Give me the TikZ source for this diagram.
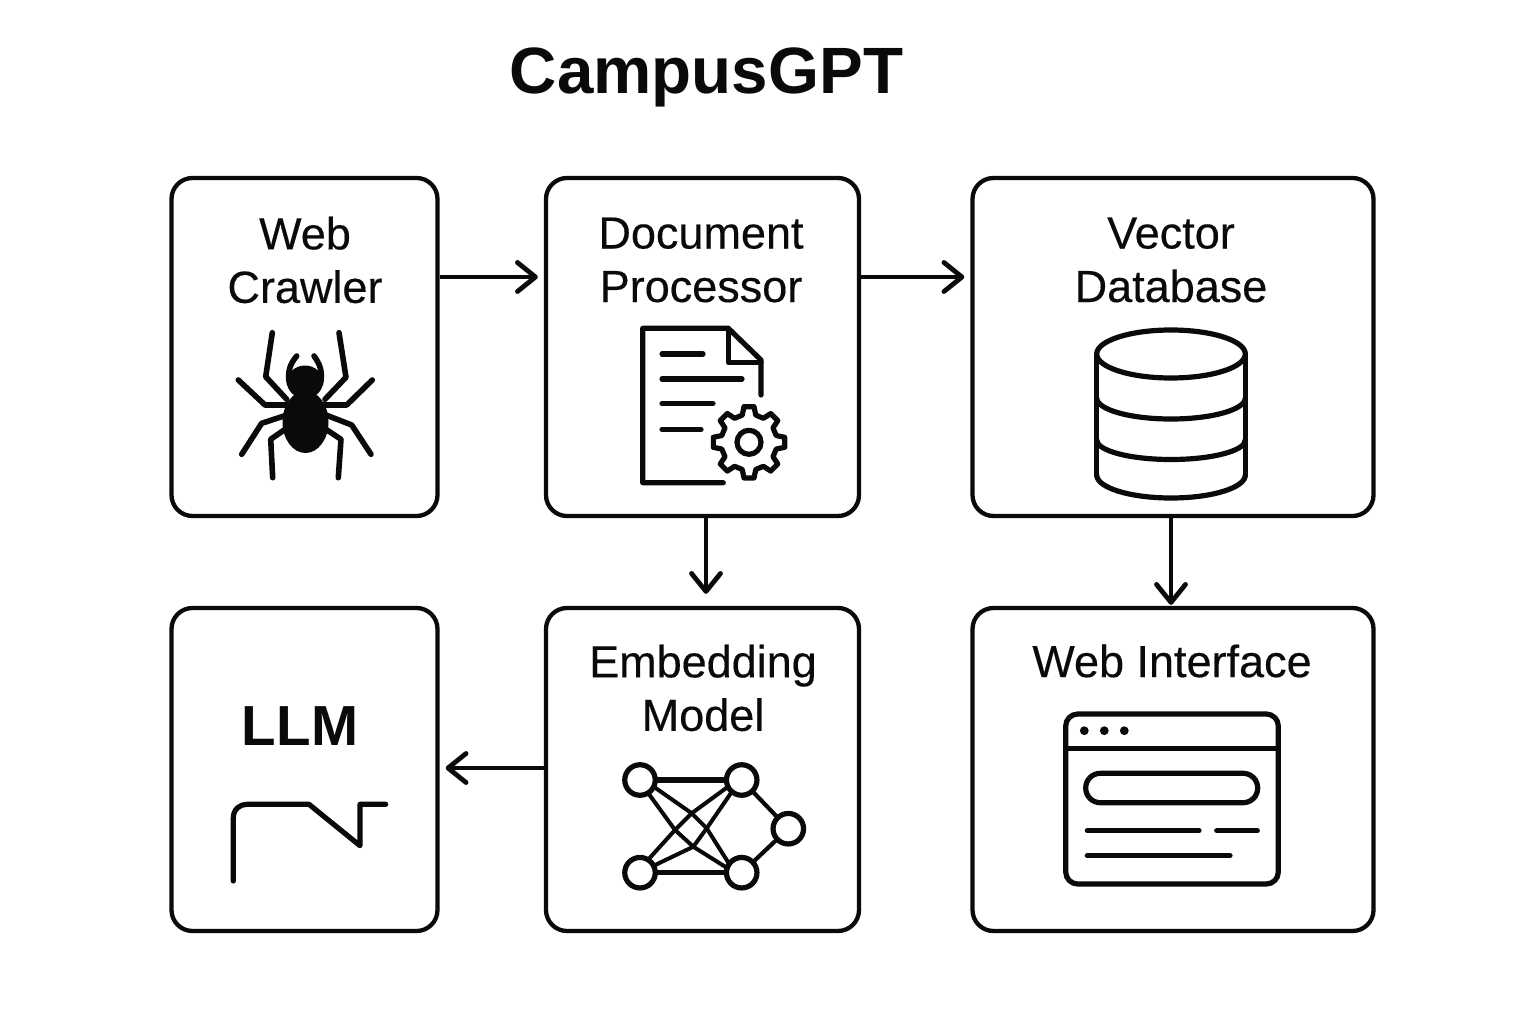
\documentclass[tikz,border=0pt]{standalone}
\usepackage{fontspec}
\setmainfont{Liberation Sans}
\newfontface\lblface{Liberation Sans}[FakeBold=0.3]
\usetikzlibrary{arrows.meta}
\definecolor{ink}{HTML}{0A0A0A}
\begin{document}
\begin{tikzpicture}[x=1pt,y=-1pt,
  box/.style={draw=ink,line width=4.3pt,rounded corners=21pt,inner sep=0pt},
  flow/.style={draw=ink,line width=4.3pt,-{Straight Barb[length=18pt,width=29pt,round,line width=4.8pt]}},
  lbl/.style={font=\lblface\fontsize{45}{53.5}\selectfont,text=ink,align=center,inner sep=0pt},
  icon/.style={draw=ink,line width=5.2pt,line cap=round,line join=round},
  neuron/.style={circle,draw=ink,line width=5.2pt,minimum size=30.5pt,inner sep=0pt,outer sep=0pt,fill=white},
  leg/.style={draw=ink,line width=5.6pt,line cap=round,line join=round}]
\useasboundingbox (0,0) rectangle (1536,1024);
\fill[white] (0,0) rectangle (1536,1024);

% title
\node[font=\fontsize{65.5}{70}\bfseries\selectfont,text=ink,inner sep=0pt] (title) at (706.5,77) {CampusGPT};

% boxes
\node[box,minimum width=266pt,minimum height=338pt] (crawler) at (304.5,347) {};
\node[box,minimum width=313pt,minimum height=338pt] (docproc) at (702.5,347) {};
\node[box,minimum width=401pt,minimum height=338pt] (vecdb) at (1173,347) {};
\node[box,minimum width=266pt,minimum height=323pt] (llm) at (304.5,769.5) {};
\node[box,minimum width=313pt,minimum height=323pt] (embed) at (702.5,769.5) {};
\node[box,minimum width=401pt,minimum height=323pt] (webui) at (1173,769.5) {};

% labels
\node[lbl] (tcrawler) at (305,260) {Web\\Crawler};
\node[lbl] (tdocproc) at (701,260) {Document\\Processor};
\node[lbl] (tvecdb) at (1171,260) {Vector\\Database};
\node[lbl] (tembed) at (703,688) {Embedding\\Model};
\node[lbl] (twebui) at (1172,661) {Web Interface};
\node[font=\fontsize{56.5}{60}\bfseries\selectfont,text=ink,inner sep=0pt] (tllm) at (300,726) {LLM};

% connectors
\coordinate (a1) at (crawler.east |- 0,277);
\coordinate (a2) at (docproc.west |- 0,277);
\coordinate (a3) at (docproc.east |- 0,277);
\coordinate (a4) at (vecdb.west |- 0,277);
\coordinate (a5) at (706,0 |- docproc.south);
\coordinate (a6) at (706,0 |- embed.north);
\coordinate (a7) at (1171,0 |- vecdb.south);
\coordinate (a8) at (1171,0 |- webui.north);
\coordinate (a9) at (embed.west |- 0,768);
\coordinate (a10) at (llm.east |- 0,768);
\draw[flow,shorten >=6pt] (a1) -- (a2);
\draw[flow,shorten >=6pt] (a3) -- (a4);
\draw[flow,shorten >=12pt] (a5) -- (a6);
\draw[flow,shorten >=1pt] (a7) -- (a8);
\draw[flow,shorten >=6pt] (a9) -- (a10);

% spider
\fill[ink] (305.5,422) ellipse [x radius=23,y radius=31];
\fill[ink] (305,382) ellipse [x radius=18,y radius=16.5];
\draw[leg] (296.7,356) .. controls (290,364) and (287,372) .. (289.5,384);
\draw[leg] (314,356) .. controls (320,364) and (323,372) .. (320.5,384);
\draw[leg] (272.3,332.7) -- (265.7,376.7) -- (286.7,399.3);
\draw[leg] (339,332.7) -- (346,377.3) -- (325,399.3);
\draw[leg] (238.3,380) -- (265,405) -- (290,405);
\draw[leg] (372.3,380) -- (346.7,405) -- (322,405);
\draw[leg] (241.7,454.3) -- (261.7,423.3) -- (287,415);
\draw[leg] (371,454.3) -- (351.7,425) -- (326,415);
\draw[leg] (272.7,477.7) -- (270.7,439.3) -- (287,428);
\draw[leg] (338.3,477.7) -- (341,439.3) -- (324,428);

% document with gear
\draw[icon] (723.3,482.7) -- (642.7,482.7) -- (642.7,328.3) -- (728.3,328.3) -- (761,360) -- (761,395);
\draw[icon] (728.3,328.3) -- (728.3,362.7) -- (761,362.7);
\draw[icon] (662,354) -- (703,354);
\draw[icon] (662,379) -- (742,379);
\draw[icon] (662,403.7) -- (713,403.7);
\draw[icon] (662,429.3) -- (701,429.3);
\begin{scope}[shift={(749,442.3)}]
  \draw[icon] (-14:28) \foreach \a in {0,45,...,315} { -- (\a-14:28) -- (\a-8:36) -- (\a+8:36) -- (\a+14:28) } -- cycle;
  \draw[icon] (0,0) circle [radius=12];
\end{scope}

% database
\draw[icon] (1171,354) ellipse [x radius=74.3,y radius=24];
\draw[icon] (1096.7,354) -- (1096.7,475);
\draw[icon] (1245.3,354) -- (1245.3,475);
\draw[icon] (1096.7,398) arc [start angle=180,end angle=0,x radius=74.3,y radius=21];
\draw[icon] (1096.7,440) arc [start angle=180,end angle=0,x radius=74.3,y radius=19.5];
\draw[icon] (1096.7,475) arc [start angle=180,end angle=0,x radius=74.3,y radius=23];

% neural network
\node[neuron] (n1) at (640,780) {};
\node[neuron] (n2) at (741.7,780) {};
\node[neuron] (n3) at (640,872.7) {};
\node[neuron] (n4) at (741.7,872.7) {};
\node[neuron] (n5) at (788.3,828.7) {};
\draw[icon,line cap=butt] (n1) -- (n2);
\draw[icon,line cap=butt] (n3) -- (n4);
\draw[icon,line width=4.2pt] (n2) -- (n5);
\draw[icon,line width=4.2pt] (n4) -- (n5);
\draw[icon,line width=4pt] (n1.-26) -- (691.7,813.3) -- (706.7,828.3) -- (n4.145);
\draw[icon,line width=4pt] (n1.-58) -- (675,830) -- (693.3,846.7) -- (n4.162);
\draw[icon,line width=4pt] (n2.206) -- (691.7,813.3) -- (675,830) -- (n3.58);
\draw[icon,line width=4pt] (n2.230) -- (706.7,828.3) -- (693.3,846.7) -- (n3.27);

% browser window
\draw[icon,rounded corners=12pt] (1065.7,714) rectangle (1278.3,884);
\draw[icon,line cap=butt] (1065.7,748.3) -- (1278.3,748.3);
\foreach \x in {1084.3,1104.3,1124.3} \fill[ink] (\x,730.7) circle [radius=4.4];
\draw[icon,rounded corners=14.6pt] (1085.7,773.3) rectangle (1257.7,802.7);
\draw[icon] (1087.3,830.7) -- (1199,830.7);
\draw[icon] (1216.7,830.7) -- (1257.3,830.7);
\draw[icon] (1087.3,855.7) -- (1230,855.7);

% llm curve
\draw[icon] (233.3,881) -- (233.3,818) .. controls (233.3,809) and (240,804.3) .. (247,804.3) -- (309,804.3) -- (360,845.7) -- (360,804.3) -- (385.7,804.3);
\end{tikzpicture}
\end{document}
